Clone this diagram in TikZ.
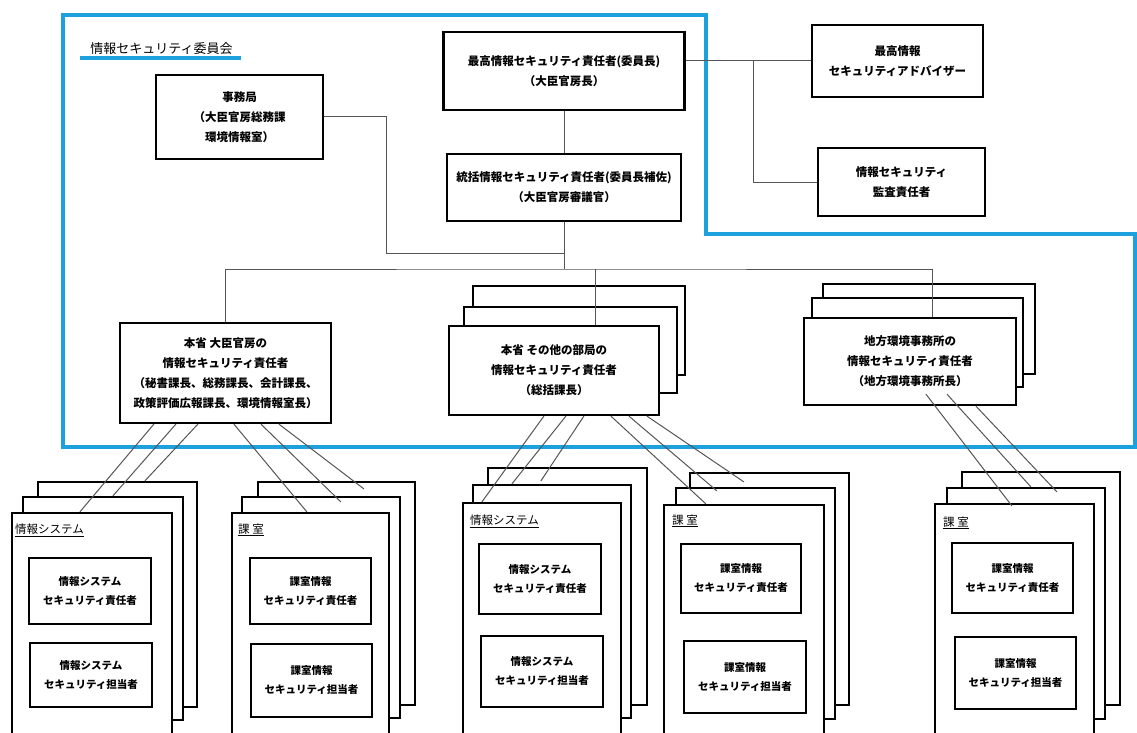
\documentclass[tikz,border=0pt]{standalone}
\usepackage{tikz}
\usepackage{fontspec}
\setmainfont{Noto Sans CJK JP}
\definecolor{frameblue}{RGB}{28,160,222}
\definecolor{linkgray}{RGB}{85,85,85}

\begin{document}
\begin{tikzpicture}[x=1pt,y=-1pt,
    box/.style={draw,line width=2.2pt,fill=white,inner sep=0pt,align=center,font=\fontsize{11.5}{20}\selectfont\bfseries},
    sheet/.style={draw,line width=2.2pt,fill=white,inner sep=0pt},
    cell/.style={draw,line width=1.2pt,fill=white,inner sep=0pt,align=center,font=\fontsize{10.5}{19}\selectfont\bfseries},
    tag/.style={anchor=west,inner sep=0pt,font=\fontsize{11.5}{14}\selectfont},
    link/.style={draw=linkgray,line width=1pt},
    frame/.style={draw=frameblue,line width=3.5pt}]
    \useasboundingbox (0,0) rectangle (1137,733);
    \draw[frame] (63,15) -- (706,15) -- (706,234) -- (1135,234) -- (1135,447) -- (63,447) -- cycle;
    \node[inner sep=0pt,font=\fontsize{13}{16}\selectfont] (title) at (161.5,49) {情報セキュリティ委員会};
    \draw[frame] ([xshift=-10pt,yshift=-3pt]title.south west) -- ([xshift=8pt,yshift=-3pt]title.south east);
    \node[box,minimum width=241pt,minimum height=78pt] (ciso) at (564,71) {最高情報セキュリティ責任者(委員長)\\（大臣官房長）};
    \node[box,minimum width=234pt,minimum height=67pt] (deputy) at (564,187.5) {統括情報セキュリティ責任者(委員長補佐)\\（大臣官房審議官）};
    \node[box,minimum width=167pt,minimum height=84pt] (secretariat) at (239.5,117) {事務局\\（大臣官房総務課\\環境情報室）};
    \node[box,minimum width=171pt,minimum height=72pt] (advisor) at (897.5,61) {最高情報\\セキュリティアドバイザー};
    \node[box,minimum width=167pt,minimum height=68pt] (audit) at (901.5,182) {情報セキュリティ\\監査責任者};
    \node[box,minimum width=211pt,minimum height=100pt] (kanbo) at (225.5,373) {本省 大臣官房の\\情報セキュリティ責任者\\（秘書課長、総務課長、会計課長、\\政策評価広報課長、環境情報室長）};
    \node[sheet,minimum width=212pt,minimum height=89pt] (honsho3) at (579,330.5) {};
    \node[sheet,minimum width=213pt,minimum height=86pt] (honsho2) at (570.5,350) {};
    \node[box,minimum width=210pt,minimum height=89pt] (honsho) at (554,370.5) {本省 その他の部局の\\情報セキュリティ責任者\\（総括課長）};
    \node[sheet,minimum width=212pt,minimum height=90pt] (regional3) at (929,329) {};
    \node[sheet,minimum width=211pt,minimum height=89pt] (regional2) at (917.5,342.5) {};
    \node[box,minimum width=212pt,minimum height=87pt] (regional) at (910,361.5) {地方環境事務所の\\情報セキュリティ責任者\\（地方環境事務所長）};
    \coordinate (bus) at (564,269);
    \coordinate (join) at (564,253);
    \coordinate (tap) at (753,61);
    \draw[link] (ciso) -- (deputy);
    \draw[link] (deputy.south) -- (bus);
    \draw[link] (secretariat.east) -- ++(62,0) |- (join);
    \draw[link] (kanbo.north) |- (bus) -| ([xshift=22pt]regional.north);
    \draw[link] ([xshift=41pt]honsho.north) -- ([xshift=41pt]honsho.north |- bus);
    \draw[link] (ciso.east |- advisor.west) -- (advisor.west);
    \draw[link] (tap) |- (audit.west);
    \node[sheet,minimum width=159pt,minimum height=225pt] (sysA3) at (117.5,594.5) {};
    \node[sheet,minimum width=160pt,minimum height=223pt] (sysA2) at (103,608.5) {};
    \node[sheet,minimum width=160pt,minimum height=232pt] (sysA1) at (92,629) {};
    \node[tag] (sysAtag) at (15,530) {\underline{情報システム}};
    \node[cell,minimum width=122pt,minimum height=66pt] (sysAlead) at (90,591) {情報システム\\セキュリティ責任者};
    \node[cell,minimum width=122pt,minimum height=64pt] (sysAstaff) at (91,675) {情報システム\\セキュリティ担当者};
    \node[sheet,minimum width=157pt,minimum height=223pt] (roomA3) at (336.5,593.5) {};
    \node[sheet,minimum width=158pt,minimum height=221pt] (roomA2) at (321,607.5) {};
    \node[sheet,minimum width=157pt,minimum height=232pt] (roomA1) at (310.5,629) {};
    \node[tag] (roomAtag) at (238,530) {\underline{課 室}};
    \node[cell,minimum width=121pt,minimum height=66pt] (roomAlead) at (310.5,591) {課室情報\\セキュリティ責任者};
    \node[cell,minimum width=121pt,minimum height=73pt] (roomAstaff) at (311.5,680.5) {課室情報\\セキュリティ担当者};
    \node[sheet,minimum width=159pt,minimum height=237pt] (sysB3) at (567.5,586.5) {};
    \node[sheet,minimum width=158pt,minimum height=233pt] (sysB2) at (552,601.5) {};
    \node[sheet,minimum width=158pt,minimum height=242pt] (sysB1) at (542,624) {};
    \node[tag] (sysBtag) at (470,521) {\underline{情報システム}};
    \node[cell,minimum width=122pt,minimum height=70pt] (sysBlead) at (540,579) {情報システム\\セキュリティ責任者};
    \node[cell,minimum width=122pt,minimum height=71pt] (sysBstaff) at (542,671.5) {情報システム\\セキュリティ担当者};
    \node[sheet,minimum width=159pt,minimum height=232pt] (roomB3) at (769.5,589) {};
    \node[sheet,minimum width=159pt,minimum height=231pt] (roomB2) at (755.5,603.5) {};
    \node[sheet,minimum width=160pt,minimum height=240pt] (roomB1) at (744,625) {};
    \node[tag] (roomBtag) at (672,521) {\underline{課 室}};
    \node[cell,minimum width=120pt,minimum height=69pt] (roomBlead) at (741,578.5) {課室情報\\セキュリティ責任者};
    \node[cell,minimum width=122pt,minimum height=72pt] (roomBstaff) at (745,677) {課室情報\\セキュリティ担当者};
    \node[sheet,minimum width=158pt,minimum height=233pt] (roomC3) at (1041,588.5) {};
    \node[sheet,minimum width=158pt,minimum height=231pt] (roomC2) at (1026,603.5) {};
    \node[sheet,minimum width=159pt,minimum height=241pt] (roomC1) at (1014.5,624.5) {};
    \node[tag] (roomCtag) at (943,523) {\underline{課 室}};
    \node[cell,minimum width=121pt,minimum height=70pt] (roomClead) at (1012.5,578) {課室情報\\セキュリティ責任者};
    \node[cell,minimum width=121pt,minimum height=72pt] (roomCstaff) at (1015.5,673) {課室情報\\セキュリティ担当者};
    \draw[link] ([xshift=35pt]kanbo.south west) -- ([xshift=69pt]sysA1.north west);
    \draw[link] ([xshift=57pt]kanbo.south west) -- ([xshift=91pt]sysA2.north west);
    \draw[link] ([xshift=79pt]kanbo.south west) -- ([xshift=108pt]sysA3.north west);
    \draw[link] ([xshift=115pt]kanbo.south west) -- ([xshift=76pt]roomA1.north west);
    \draw[link] ([xshift=142pt]kanbo.south west) -- ([xshift=100pt,yshift=-6pt]roomA2.north west);
    \draw[link] ([xshift=160pt]kanbo.south west) -- ([xshift=107pt,yshift=-8pt]roomA3.north west);
    \draw[link] ([xshift=96pt]honsho.south west) -- ([xshift=20pt]sysB1.north west);
    \draw[link] ([xshift=118pt]honsho.south west) -- ([xshift=40pt]sysB2.north west);
    \draw[link] ([xshift=136pt]honsho.south west) -- ([xshift=54pt,yshift=-14pt]sysB3.north west);
    \draw[link] ([xshift=163pt]honsho.south west) -- ([xshift=43pt]roomB1.north west);
    \draw[link] ([xshift=181pt]honsho.south west) -- ([xshift=42pt,yshift=-4pt]roomB2.north west);
    \draw[link] ([xshift=199pt]honsho.south west) -- ([xshift=55pt,yshift=-10pt]roomB3.north west);
    \draw[link] ([xshift=123pt,yshift=12pt]regional.south west) -- ([xshift=78pt,yshift=-3pt]roomC1.north west);
    \draw[link] ([xshift=144pt,yshift=12pt]regional.south west) -- ([xshift=85pt]roomC2.north west);
    \draw[link] ([xshift=173pt]regional.south west) -- ([xshift=96pt,yshift=-21pt]roomC3.north west);
\end{tikzpicture}
\end{document}
